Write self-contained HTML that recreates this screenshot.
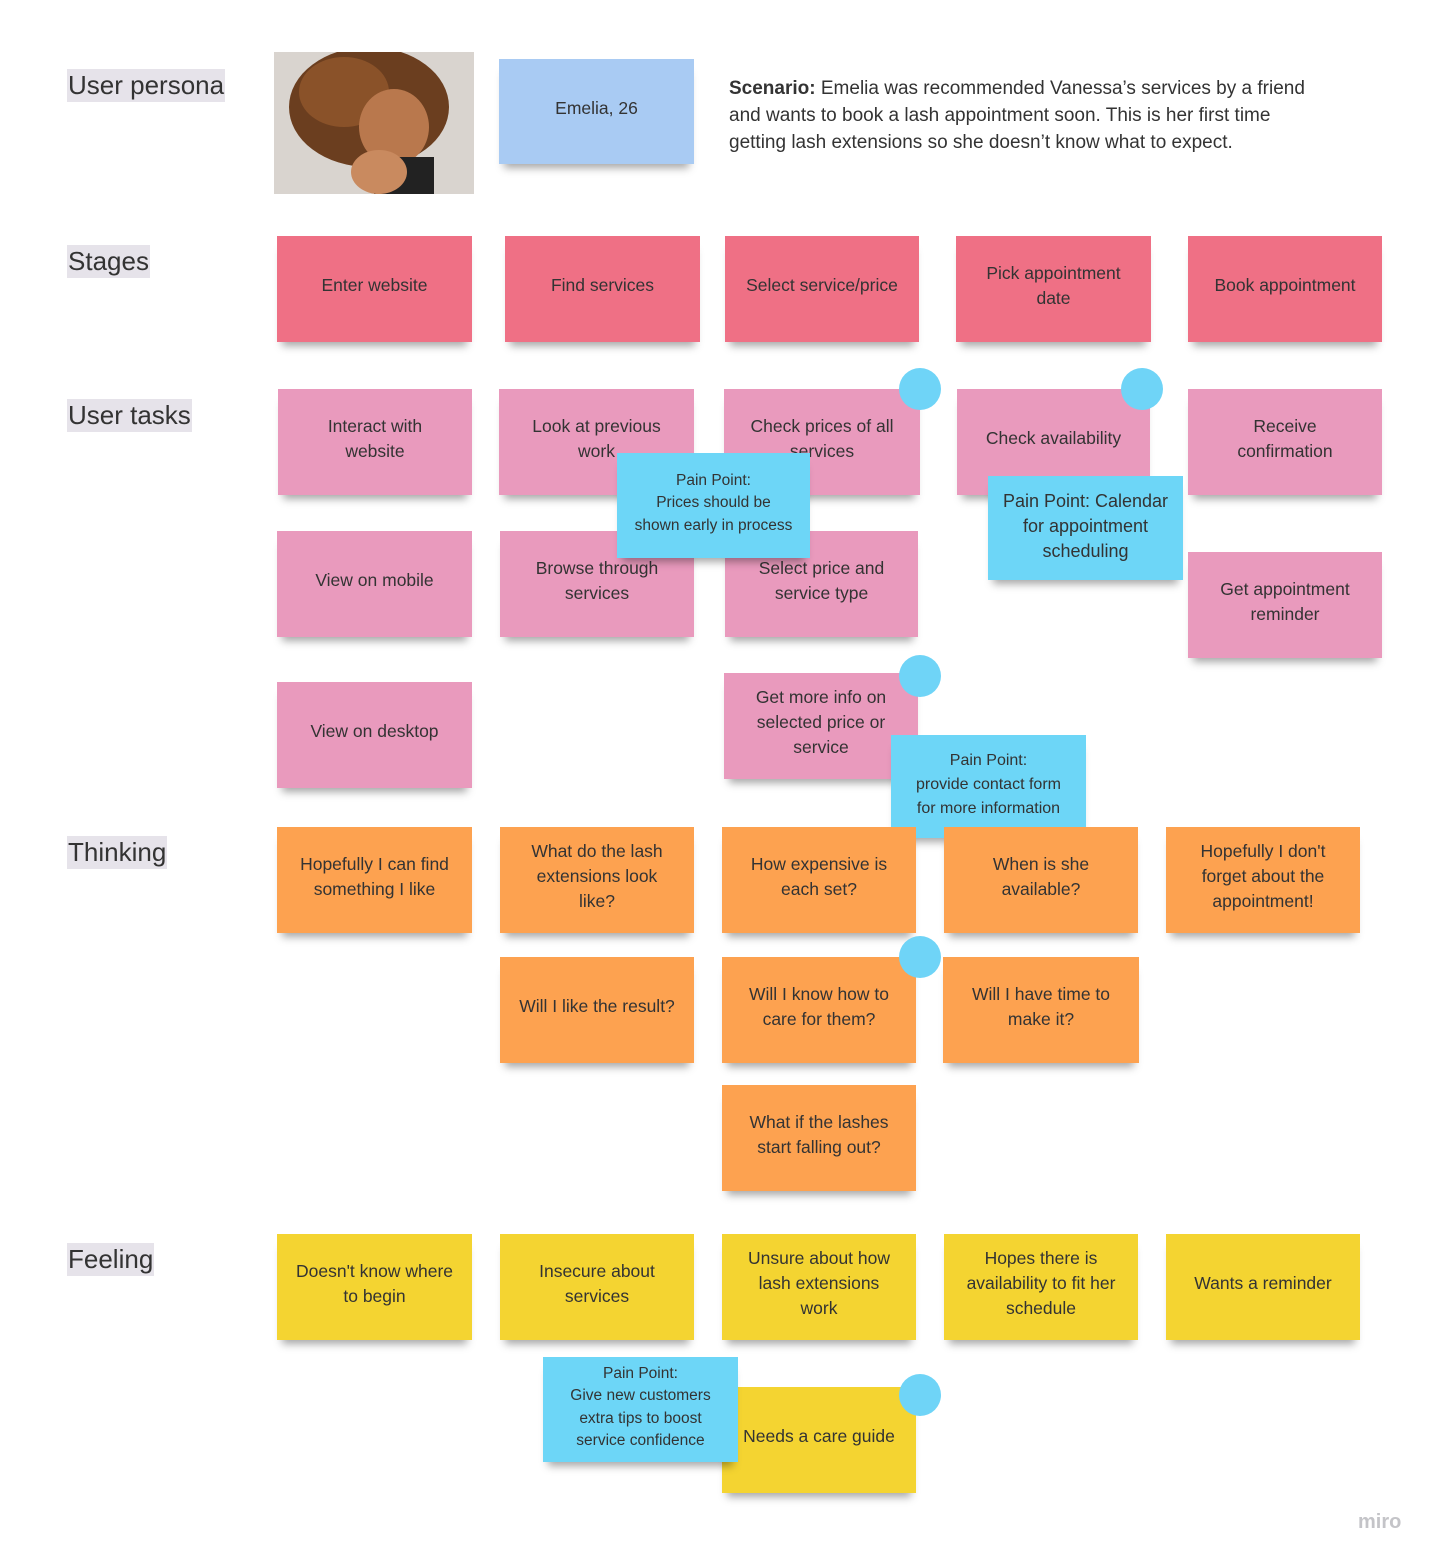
<!DOCTYPE html>
<html><head><meta charset="utf-8"><style>
body{margin:0;width:1438px;height:1564px;background:#fff;position:relative;overflow:hidden;font-family:"Liberation Sans",sans-serif;color:#333}
.n{position:absolute;display:flex;align-items:center;justify-content:center;text-align:center;font-size:17.5px;line-height:25px;box-shadow:0 9px 8px -5px rgba(0,0,0,.35);box-sizing:border-box;white-space:nowrap;padding-bottom:7px}
.s{background:#ef7085}.t{background:#e99abd}.o{background:#fda250}.y{background:#f4d431}.p{background:#6dd6f7;font-size:15.5px;line-height:22.5px;padding-bottom:4px}
.l{position:absolute;left:67px;font-size:26px;background:#e6e3ea;padding:0 1px;line-height:33px;color:#333}
.c{position:absolute;width:42px;height:42px;border-radius:50%;background:#6fd4f7}
</style></head><body>
<div class="l" style="top:69px">User persona</div>
<div class="l" style="top:245px">Stages</div>
<div class="l" style="top:399px">User tasks</div>
<div class="l" style="top:836px">Thinking</div>
<div class="l" style="top:1243px">Feeling</div>

<svg style="position:absolute;left:274px;top:52px" width="200" height="142">
<rect width="200" height="142" fill="#d9d4cf"/>
<ellipse cx="95" cy="55" rx="80" ry="60" fill="#6b3e1f"/>
<ellipse cx="70" cy="40" rx="45" ry="35" fill="#8a5229"/>
<ellipse cx="120" cy="75" rx="35" ry="38" fill="#b9784d"/>
<rect x="100" y="105" width="60" height="37" fill="#222"/>
<ellipse cx="105" cy="120" rx="28" ry="22" fill="#c98a5f"/>
</svg>
<div class="n" style="left:499px;top:59px;width:195px;height:105px;background:#a9cbf3">Emelia, 26</div>
<div style="position:absolute;left:729px;top:75px;font-size:19px;line-height:27px;color:#333;white-space:nowrap"><b>Scenario:</b> Emelia was recommended Vanessa’s services by a friend<br>and wants to book a lash appointment soon. This is her first time<br>getting lash extensions so she doesn’t know what to expect.</div>

<div class="n s" style="left:277px;top:236px;width:195px;height:106px">Enter website</div>
<div class="n s" style="left:505px;top:236px;width:195px;height:106px">Find services</div>
<div class="n s" style="left:725px;top:236px;width:194px;height:106px">Select service/price</div>
<div class="n s" style="left:956px;top:236px;width:195px;height:106px">Pick appointment<br>date</div>
<div class="n s" style="left:1188px;top:236px;width:194px;height:106px">Book appointment</div>

<div class="n t" style="left:278px;top:389px;width:194px;height:106px">Interact with<br>website</div>
<div class="n t" style="left:499px;top:389px;width:195px;height:106px">Look at previous<br>work</div>
<div class="n t" style="left:724px;top:389px;width:196px;height:106px">Check prices of all<br>services</div>
<div class="n t" style="left:957px;top:389px;width:193px;height:106px">Check availability</div>
<div class="n t" style="left:1188px;top:389px;width:194px;height:106px">Receive<br>confirmation</div>
<div class="n t" style="left:277px;top:531px;width:195px;height:106px">View on mobile</div>
<div class="n t" style="left:500px;top:531px;width:194px;height:106px">Browse through<br>services</div>
<div class="n t" style="left:725px;top:531px;width:193px;height:106px">Select price and<br>service type</div>
<div class="n t" style="left:1188px;top:552px;width:194px;height:106px">Get appointment<br>reminder</div>
<div class="n t" style="left:277px;top:682px;width:195px;height:106px">View on desktop</div>
<div class="n t" style="left:724px;top:673px;width:194px;height:106px">Get more info on<br>selected price or<br>service</div>

<div class="c" style="left:899px;top:368px"></div>
<div class="c" style="left:1121px;top:368px"></div>
<div class="n p" style="left:617px;top:453px;width:193px;height:105px">Pain Point:<br>Prices should be<br>shown early in process</div>
<div class="n p" style="left:988px;top:476px;width:195px;height:104px;font-size:18px;line-height:25px">Pain Point: Calendar<br>for appointment<br>scheduling</div>
<div class="c" style="left:899px;top:655px"></div>
<div class="n p" style="left:891px;top:735px;width:195px;height:103px;font-size:16px;line-height:24px">Pain Point:<br>provide contact form<br>for more information</div>

<div class="n o" style="left:277px;top:827px;width:195px;height:106px">Hopefully I can find<br>something I like</div>
<div class="n o" style="left:500px;top:827px;width:194px;height:106px">What do the lash<br>extensions look<br>like?</div>
<div class="n o" style="left:722px;top:827px;width:194px;height:106px">How expensive is<br>each set?</div>
<div class="n o" style="left:944px;top:827px;width:194px;height:106px">When is she<br>available?</div>
<div class="n o" style="left:1166px;top:827px;width:194px;height:106px">Hopefully I don't<br>forget about the<br>appointment!</div>
<div class="n o" style="left:500px;top:957px;width:194px;height:106px">Will I like the result?</div>
<div class="n o" style="left:722px;top:957px;width:194px;height:106px">Will I know how to<br>care for them?</div>
<div class="n o" style="left:943px;top:957px;width:196px;height:106px">Will I have time to<br>make it?</div>
<div class="n o" style="left:722px;top:1085px;width:194px;height:106px">What if the lashes<br>start falling out?</div>
<div class="c" style="left:899px;top:936px"></div>

<div class="n y" style="left:277px;top:1234px;width:195px;height:106px">Doesn't know where<br>to begin</div>
<div class="n y" style="left:500px;top:1234px;width:194px;height:106px">Insecure about<br>services</div>
<div class="n y" style="left:722px;top:1234px;width:194px;height:106px">Unsure about how<br>lash extensions<br>work</div>
<div class="n y" style="left:944px;top:1234px;width:194px;height:106px">Hopes there is<br>availability to fit her<br>schedule</div>
<div class="n y" style="left:1166px;top:1234px;width:194px;height:106px">Wants a reminder</div>
<div class="n y" style="left:722px;top:1387px;width:194px;height:106px">Needs a care guide</div>
<div class="n p" style="left:543px;top:1357px;width:195px;height:105px">Pain Point:<br>Give new customers<br>extra tips to boost<br>service confidence</div>
<div class="c" style="left:899px;top:1374px"></div>

<div style="position:absolute;left:1358px;top:1511px;font-size:20px;color:#c4c4c8;font-weight:bold">miro</div>
</body></html>
